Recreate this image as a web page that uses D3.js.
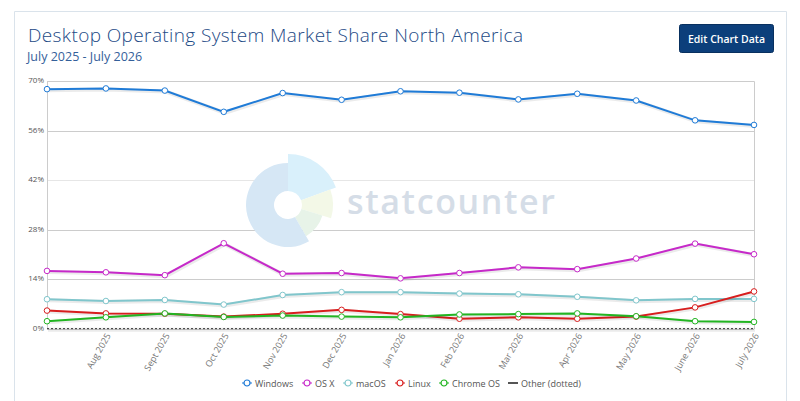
<!DOCTYPE html>
<html>
<head>
<meta charset="utf-8">
<script src="https://cdn.jsdelivr.net/npm/d3@7"></script>
<style>
  body { margin: 0; background: #fff; font-family: "Open Sans", sans-serif; }
</style>
</head>
<body>
<div id="chart"></div>
<script>
// Chart data
var months = ["July 2025", "Aug 2025", "Sept 2025", "Oct 2025", "Nov 2025", "Dec 2025",
  "Jan 2026", "Feb 2026", "Mar 2026", "Apr 2026", "May 2026", "June 2026", "July 2026"];
var windows = [67.7, 67.9, 67.3, 61.3, 66.6, 64.7, 67.1, 66.7, 64.8, 66.4, 64.5, 58.9, 57.6];
var osx = [16.4, 16.0, 15.2, 24.2, 15.6, 15.8, 14.3, 15.8, 17.4, 16.9, 19.9, 24.1, 21.1];
var macos = [8.4, 7.9, 8.2, 6.9, 9.6, 10.4, 10.4, 10.0, 9.8, 9.1, 8.1, 8.5, 8.5];
var linux = [5.2, 4.4, 4.3, 3.5, 4.3, 5.4, 4.2, 2.9, 3.3, 2.9, 3.5, 6.1, 10.6];
var chromeos = [2.2, 3.3, 4.4, 3.4, 3.8, 3.5, 3.3, 4.1, 4.2, 4.4, 3.6, 2.2, 2.0];
var other = [0.1, 0.1, 0.1, 0.1, 0.1, 0.1, 0.1, 0.1, 0.1, 0.1, 0.1, 0.1, 0.1];
var yTicks = [0, 14, 28, 42, 56, 70];

var seriesNames = ["Windows", "OS X", "macOS", "Linux", "Chrome OS", "Other (dotted)"];
var seriesValues = [windows, osx, macos, linux, chromeos, other];
var seriesColors = ["#1f7bd7", "#c629c9", "#80c6cc", "#d81e1e", "#22b522", "#333333"];

var svgWidth = 800;
var svgHeight = 401;

// plot area, in page pixels
var plot = { left: 47, right: 754, top: 81, bottom: 329 };

var svg = d3.select("#chart")
  .append("svg")
  .attr("width", svgWidth)
  .attr("height", svgHeight);

// card outline
svg.append("path")
  .attr("d", "M14.5,402 V11.5 H786.5 V402")
  .attr("fill", "none")
  .attr("stroke", "#dae3eb");

// title and subtitle
svg.append("text")
  .attr("x", 28)
  .attr("y", 42)
  .attr("font-size", "19px")
  .attr("font-weight", 300)
  .attr("fill", "#1d4a86")
  .attr("textLength", 495)
  .attr("lengthAdjust", "spacing")
  .text("Desktop Operating System Market Share North America");

svg.append("text")
  .attr("x", 27)
  .attr("y", 60.5)
  .attr("font-size", "12.5px")
  .attr("fill", "#34609a")
  .text("July 2025 - July 2026");

// button
svg.append("rect")
  .attr("x", 679.5).attr("y", 24.5)
  .attr("width", 94).attr("height", 28)
  .attr("rx", 2)
  .attr("fill", "#0c3f7b")
  .attr("stroke", "#08305f");

svg.append("text")
  .attr("x", 726.5).attr("y", 42.5)
  .attr("text-anchor", "middle")
  .attr("font-size", "10.5px")
  .attr("font-weight", 600)
  .attr("fill", "#fff")
  .text("Edit Chart Data");

// scales
var xScale = d3.scalePoint()
  .domain(months)
  .range([plot.left, plot.right]);

var yScale = d3.scaleLinear()
  .domain([0, 70])
  .range([plot.bottom, plot.top]);

// gridlines
svg.append("g")
  .selectAll("line")
  .data(yTicks)
  .enter()
  .append("line")
  .attr("x1", plot.left)
  .attr("x2", plot.right)
  .attr("y1", d => Math.round(yScale(d)) + 0.5)
  .attr("y2", d => Math.round(yScale(d)) + 0.5)
  .attr("stroke", d => d === 42 ? "#e6e6e6" : "#cccccc");

// plot border (sides)
svg.append("path")
  .attr("d", `M${plot.left + 0.5},${plot.bottom} V${plot.top + 0.5} H${plot.right + 0.5} V${plot.bottom}`)
  .attr("fill", "none")
  .attr("stroke", "#cccccc");

// y labels
var leftAxis = d3.axisLeft(yScale)
  .tickValues(yTicks)
  .tickSize(0)
  .tickPadding(3)
  .tickFormat(d => d + "%");

svg.append("g")
  .attr("transform", `translate(${plot.left}, -1)`)
  .call(leftAxis)
  .call(g => g.select(".domain").remove())
  .selectAll("text")
  .attr("font-family", "Open Sans, sans-serif")
  .attr("font-size", "8px")
  .attr("fill", "#555");

// x labels (rotated)
var bottomAxis = d3.axisBottom(xScale)
  .tickSize(0)
  .tickFormat((d, i) => i === 0 ? "" : d);

svg.append("g")
  .attr("transform", `translate(0, ${plot.bottom})`)
  .call(bottomAxis)
  .call(g => g.select(".domain").remove())
  .selectAll("text")
  .attr("font-family", "Open Sans, sans-serif")
  .attr("font-size", "9px")
  .attr("fill", "#777")
  .attr("text-anchor", "end")
  .attr("transform", "translate(2, 5) rotate(-60)")
  .attr("dy", "0.35em")
  .attr("y", 0);

// statcounter watermark
var wm = svg.append("g")
  .attr("transform", "translate(288, 205)");

var arc = d3.arc();
var wmPieces = [
  { a0: 0, a1: 70, r: 51, c: "#d9f0fb" },
  { a0: 70, a1: 107, r: 45, c: "#f3f8e7" },
  { a0: 107, a1: 150, r: 36, c: "#e7f3e8" },
  { a0: 150, a1: 360, r: 42, c: "#d6e7f5" }
];
wm.selectAll("path")
  .data(wmPieces)
  .enter()
  .append("path")
  .attr("d", d => arc({
    innerRadius: 14,
    outerRadius: d.r,
    startAngle: d.a0 * Math.PI / 180,
    endAngle: d.a1 * Math.PI / 180
  }))
  .attr("fill", d => d.c);

svg.append("text")
  .attr("x", 347)
  .attr("y", 214)
  .attr("font-size", "34px")
  .attr("font-weight", 600)
  .attr("fill", "#d5dde7")
  .attr("textLength", 208)
  .text("statcounter");

// lines
var line = d3.line()
  .x((d, i) => xScale(months[i]))
  .y(d => yScale(d));

var linesGroup = svg.append("g");

seriesValues.forEach(function(values, s) {
  // soft shadow under each line
  linesGroup.append("path")
    .attr("d", line(values))
    .attr("fill", "none")
    .attr("stroke", "#000")
    .attr("stroke-opacity", 0.08)
    .attr("stroke-width", 4)
    .attr("transform", "translate(1, 1)");

  linesGroup.append("path")
    .attr("d", line(values))
    .attr("fill", "none")
    .attr("stroke", seriesColors[s])
    .attr("stroke-width", s === 5 ? 1 : 2)
    .attr("stroke-dasharray", s === 5 ? "2,2" : null);
});

seriesValues.forEach(function(values, s) {
  if (s === 5) return;
  linesGroup.append("g")
    .selectAll("circle")
    .data(values)
    .enter()
    .append("circle")
    .attr("cx", (d, i) => xScale(months[i]))
    .attr("cy", d => yScale(d))
    .attr("r", 2.8)
    .attr("fill", "#fff")
    .attr("stroke", seriesColors[s])
    .attr("stroke-width", 1);
});

// legend
var legendX = [242, 302, 343, 395, 439, 508];
var legend = svg.append("g")
  .attr("transform", "translate(0, 383)");

seriesNames.forEach(function(name, s) {
  var item = legend.append("g")
    .attr("transform", `translate(${legendX[s]}, 0)`);
  if (s === 5) {
    item.append("line")
      .attr("x1", 0).attr("x2", 10)
      .attr("stroke", "#555")
      .attr("stroke-width", 2);
  } else {
    item.append("line")
      .attr("x1", 0).attr("x2", 10)
      .attr("stroke", seriesColors[s])
      .attr("stroke-width", 1);
    item.append("circle")
      .attr("cx", 5)
      .attr("r", 3)
      .attr("fill", "#fff")
      .attr("stroke", seriesColors[s])
      .attr("stroke-width", 1.2);
  }
  item.append("text")
    .attr("x", 13)
    .attr("y", 3.5)
    .attr("font-size", "9px")
    .attr("fill", "#555")
    .text(name);
});
</script>
</body>
</html>
